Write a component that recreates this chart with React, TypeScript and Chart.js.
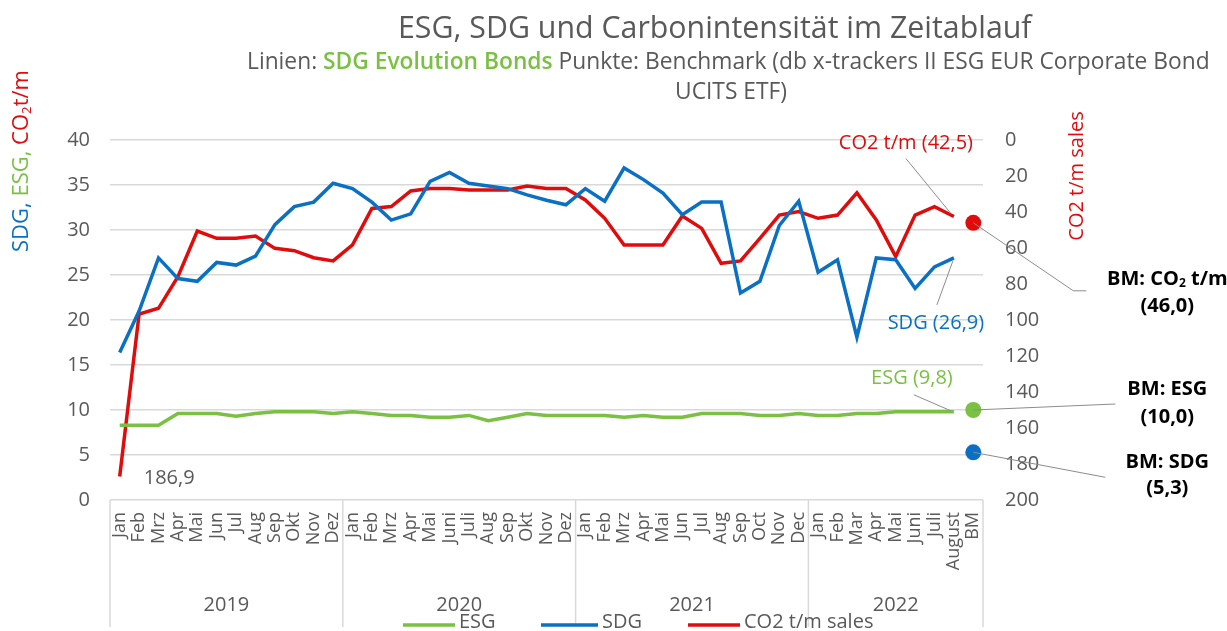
import React, { useEffect, useRef } from 'react';
import { Chart, registerables } from 'chart.js';

Chart.register(...registerables);

// ---------- data ----------
const monthLabels = [
  'Jan', 'Feb', 'Mrz', 'Apr', 'Mai', 'Jun', 'Jul', 'Aug', 'Sep', 'Okt', 'Nov', 'Dez',
  'Jan', 'Feb', 'Mrz', 'Apr', 'Mai', 'Juni', 'Juli', 'Aug', 'Sep', 'Okt', 'Nov', 'Dez',
  'Jan', 'Feb', 'Mrz', 'Apr', 'Mai', 'Jun', 'Jul', 'Aug', 'Sep', 'Oct', 'Nov', 'Dec',
  'Jan', 'Feb', 'Mar', 'Apr', 'Mai', 'Juni', 'Juli', 'August', 'BM',
];
const yearLabels = ['2019', '2020', '2021', '2022'];
const yearSizes = [12, 12, 12, 9];

const esgValues = [
  8.3, 8.3, 8.3, 9.6, 9.6, 9.6, 9.3, 9.6, 9.8, 9.8, 9.8, 9.6,
  9.8, 9.6, 9.4, 9.4, 9.2, 9.2, 9.4, 8.8, 9.2, 9.6, 9.4, 9.4,
  9.4, 9.4, 9.2, 9.4, 9.2, 9.2, 9.6, 9.6, 9.6, 9.4, 9.4, 9.6,
  9.4, 9.4, 9.6, 9.6, 9.8, 9.8, 9.8, 9.8, null,
];
const sdgValues = [
  16.4, 21.0, 26.9, 24.6, 24.3, 26.4, 26.1, 27.1, 30.6, 32.6, 33.1, 35.2,
  34.6, 33.1, 31.1, 31.8, 35.4, 36.4, 35.2, 34.9, 34.6, 33.9, 33.3, 32.8,
  34.6, 33.2, 36.9, 35.6, 34.1, 31.7, 33.1, 33.1, 23.0, 24.3, 30.5, 33.2,
  25.3, 26.7, 18.1, 26.9, 26.7, 23.5, 25.9, 26.9, null,
];
const co2Values = [
  186.9, 96.7, 93.5, 75.9, 50.6, 54.6, 54.6, 53.3, 60.2, 61.5, 65.4, 67.2,
  58.3, 38.0, 37.0, 28.3, 26.9, 26.9, 27.8, 27.8, 27.8, 25.6, 26.9, 26.9,
  33.3, 43.5, 58.3, 58.3, 58.3, 42.2, 49.1, 68.5, 67.2, 54.6, 41.7, 39.8,
  43.5, 41.7, 29.3, 44.4, 64.8, 41.7, 37.0, 42.5, null,
];
const bmEsg = 10.0;
const bmSdg = 5.3;
const bmCo2 = 46.0;

const leftTicks = { min: 0, max: 40, step: 5 };
const rightTicks = { min: 0, max: 200, step: 20 };

// ---------- styles ----------
const FONT = "'Open Sans', sans-serif";
const GRAY = '#595959';
const GREEN = '#7AC143';
const BLUE = '#0A70C4';
const RED = '#E00C0C';
const GRID = '#d9d9d9';
const LEADER = '#8c8c8c';

const fmt = (v: number) => v.toFixed(1).replace('.', ',');
const bmOnly = (v: number) => monthLabels.map((_, i) => (i === monthLabels.length - 1 ? v : null));

function drawSegments(ctx: CanvasRenderingContext2D, segs: any[], x: number, y: number, size: number) {
  let cx = x;
  for (const s of segs) {
    const fs = s.sub ? size * 0.6 : size;
    ctx.font = `${s.weight || 400} ${fs}px ${FONT}`;
    ctx.fillStyle = s.color;
    ctx.fillText(s.text, cx, y + (s.sub ? size * 0.25 : 0));
    cx += ctx.measureText(s.text).width;
  }
}
function segWidth(ctx: CanvasRenderingContext2D, segs: any[], size: number) {
  let w = 0;
  for (const s of segs) {
    const fs = s.sub ? size * 0.6 : size;
    ctx.font = `${s.weight || 400} ${fs}px ${FONT}`;
    w += ctx.measureText(s.text).width;
  }
  return w;
}
function fitSize(ctx: CanvasRenderingContext2D, segs: any[], target: number) {
  return (20 * target) / segWidth(ctx, segs, 20);
}

const overlay = {
  id: 'overlay',
  afterDraw(chart: any) {
    const { ctx, chartArea, scales } = chart;
    const xs = scales.x, ys = scales.y, ys2 = scales.y2;
    ctx.save();
    ctx.textBaseline = 'middle';

    // Title
    const titleSegs = [{ text: 'ESG, SDG und Carbonintensität im Zeitablauf', color: GRAY }];
    const tSize = fitSize(ctx, titleSegs, 634);
    drawSegments(ctx, titleSegs, 398, 29, tSize);

    // Subtitle
    const sub1 = [
      { text: 'Linien: ', color: GRAY },
      { text: 'SDG Evolution Bonds', color: GREEN, weight: 600 },
      { text: ' Punkte: Benchmark (db x-trackers II ESG EUR Corporate Bond', color: GRAY },
    ];
    const sSize = fitSize(ctx, sub1, 963);
    drawSegments(ctx, sub1, 247, 63, sSize);
    const sub2 = [{ text: 'UCITS ETF)', color: GRAY }];
    const w2 = segWidth(ctx, sub2, sSize);
    drawSegments(ctx, sub2, 731 - w2 / 2, 93, sSize);

    // Left axis title (rotated)
    const leftSegs = [
      { text: 'SDG, ', color: BLUE },
      { text: 'ESG, ', color: GREEN },
      { text: 'CO', color: RED },
      { text: '2', color: RED, sub: true },
      { text: 't/m', color: RED },
    ];
    const lSize = fitSize(ctx, leftSegs, 182);
    ctx.save();
    ctx.translate(22, 252);
    ctx.rotate(-Math.PI / 2);
    drawSegments(ctx, leftSegs, 0, 0, lSize);
    ctx.restore();

    // Right axis title
    ctx.save();
    ctx.translate(1077, 176);
    ctx.rotate(-Math.PI / 2);
    ctx.textAlign = 'center';
    ctx.font = `400 20px ${FONT}`;
    ctx.fillStyle = RED;
    ctx.fillText('CO2 t/m sales', 0, 0);
    ctx.restore();

    // Year group separators and labels
    const bottom = chartArea.bottom;
    const bounds: number[] = [chartArea.left];
    let acc = 0;
    for (let k = 0; k < yearSizes.length - 1; k++) {
      acc += yearSizes[k];
      bounds.push((xs.getPixelForValue(acc - 1) + xs.getPixelForValue(acc)) / 2);
    }
    bounds.push(chartArea.right);
    ctx.strokeStyle = GRID;
    ctx.lineWidth = 1.5;
    for (const b of bounds) {
      ctx.beginPath();
      ctx.moveTo(b, bottom);
      ctx.lineTo(b, bottom + 127);
      ctx.stroke();
    }
    ctx.font = `400 20px ${FONT}`;
    ctx.fillStyle = GRAY;
    ctx.textAlign = 'center';
    yearLabels.forEach((yl, k) => {
      ctx.fillText(yl, (bounds[k] + bounds[k + 1]) / 2, bottom + 105);
    });

    // Legend
    const legendItems = [
      { label: 'ESG', color: GREEN, x0: 403, x1: 455 },
      { label: 'SDG', color: BLUE, x0: 541, x1: 598 },
      { label: 'CO2 t/m sales', color: RED, x0: 688, x1: 740 },
    ];
    ctx.textAlign = 'left';
    for (const it of legendItems) {
      ctx.strokeStyle = it.color;
      ctx.lineWidth = 3.5;
      ctx.beginPath();
      ctx.moveTo(it.x0, 625);
      ctx.lineTo(it.x1, 625);
      ctx.stroke();
      ctx.fillStyle = GRAY;
      ctx.fillText(it.label, it.x1 + 4, 622);
    }

    // Data labels with leaders
    const last = monthLabels.length - 2;
    const bmIdx = monthLabels.length - 1;
    const line = (pts: number[][]) => {
      ctx.strokeStyle = LEADER;
      ctx.lineWidth = 1;
      ctx.beginPath();
      ctx.moveTo(pts[0][0], pts[0][1]);
      for (let i = 1; i < pts.length; i++) ctx.lineTo(pts[i][0], pts[i][1]);
      ctx.stroke();
    };

    // first CO2 value
    const f = [xs.getPixelForValue(0), ys2.getPixelForValue(co2Values[0])];
    ctx.font = `400 20px ${FONT}`;
    ctx.fillStyle = GRAY;
    ctx.textAlign = 'left';
    ctx.fillText(fmt(co2Values[0] as number), f[0] + 24, f[1] + 2);

    // last CO2
    const ac = [xs.getPixelForValue(last), ys2.getPixelForValue(co2Values[last])];
    line([[ac[0] - 48, ac[1] - 58], [ac[0] - 3, ac[1] - 3]]);
    ctx.textAlign = 'center';
    ctx.fillStyle = RED;
    ctx.fillText(`CO2 t/m (${fmt(co2Values[last] as number)})`, ac[0] - 48, ac[1] - 73);

    // last SDG
    const as = [xs.getPixelForValue(last), ys.getPixelForValue(sdgValues[last])];
    line([[as[0] - 17, as[1] + 47], [as[0] - 1, as[1] + 3]]);
    ctx.fillStyle = BLUE;
    ctx.fillText(`SDG (${fmt(sdgValues[last] as number)})`, as[0] - 18, as[1] + 65);

    // last ESG
    const ae = [xs.getPixelForValue(last), ys.getPixelForValue(esgValues[last])];
    line([[ae[0] - 40, ae[1] - 17], [ae[0] - 3, ae[1] - 1]]);
    ctx.fillStyle = GREEN;
    ctx.fillText(`ESG (${fmt(esgValues[last] as number)})`, ae[0] - 42, ae[1] - 34);

    // Benchmark labels
    const bx = xs.getPixelForValue(bmIdx);
    const tx = bx + 194;
    const bc = ys2.getPixelForValue(bmCo2);
    line([[bx, bc], [bx + 100, bc + 68], [bx + 113, bc + 68]]);
    const bmCoSegs = [
      { text: 'BM: CO', color: '#000', weight: 700 },
      { text: '2', color: '#000', weight: 700, sub: true },
      { text: ' t/m', color: '#000', weight: 700 },
    ];
    const wco = segWidth(ctx, bmCoSegs, 20);
    ctx.textAlign = 'left';
    drawSegments(ctx, bmCoSegs, tx - wco / 2, bc + 56, 20);
    ctx.textAlign = 'center';
    ctx.font = `700 20px ${FONT}`;
    ctx.fillStyle = '#000';
    ctx.fillText(`(${fmt(bmCo2)})`, tx, bc + 83);

    const be = ys.getPixelForValue(bmEsg);
    line([[bx, be], [bx + 142, be - 6]]);
    ctx.font = `700 20px ${FONT}`;
    ctx.fillStyle = '#000';
    ctx.fillText('BM: ESG', tx, be - 21);
    ctx.fillText(`(${fmt(bmEsg)})`, tx, be + 7);

    const bs = ys.getPixelForValue(bmSdg);
    line([[bx, bs], [bx + 132, bs + 25]]);
    ctx.fillText('BM: SDG', tx, bs + 10);
    ctx.fillText(`(${fmt(bmSdg)})`, tx, bs + 36);

    ctx.restore();
  },
};

export default function App() {
  const ref = useRef<HTMLCanvasElement | null>(null);
  useEffect(() => {
    document.body.style.margin = '0';
    document.body.style.overflow = 'hidden';
    if (!ref.current) return;
    const lineDs = (label: string, data: any[], color: string, axis: string) => ({
      label,
      data,
      borderColor: color,
      backgroundColor: color,
      borderWidth: 3.5,
      pointRadius: 0,
      tension: 0,
      yAxisID: axis,
      spanGaps: false,
    });
    const dotDs = (label: string, data: any[], color: string, axis: string) => ({
      label,
      data,
      borderColor: color,
      backgroundColor: color,
      showLine: false,
      pointRadius: 8,
      pointBorderWidth: 0,
      yAxisID: axis,
    });
    const chart = new Chart(ref.current, {
      type: 'line',
      data: {
        labels: monthLabels,
        datasets: [
          lineDs('ESG', esgValues, GREEN, 'y'),
          lineDs('SDG', sdgValues, BLUE, 'y'),
          lineDs('CO2 t/m sales', co2Values, RED, 'y2'),
          dotDs('BM ESG', bmOnly(bmEsg), GREEN, 'y'),
          dotDs('BM SDG', bmOnly(bmSdg), BLUE, 'y'),
          dotDs('BM CO2', bmOnly(bmCo2), RED, 'y2'),
        ] as any,
      },
      options: {
        animation: false,
        responsive: false,
        events: [],
        layout: { padding: { top: 140, left: 0, right: 0, bottom: 0 } },
        plugins: { legend: { display: false }, title: { display: false }, tooltip: { enabled: false } },
        scales: {
          x: {
            type: 'category',
            offset: true,
            grid: { display: false, drawTicks: false },
            border: { display: false },
            ticks: {
              autoSkip: false,
              minRotation: 90,
              maxRotation: 90,
              padding: 12,
              color: GRAY,
              font: { family: FONT, size: 18 },
            },
            afterFit: (s: any) => { s.height = 131; },
          },
          y: {
            position: 'left',
            min: leftTicks.min,
            max: leftTicks.max,
            grid: { color: GRID, lineWidth: 1.5, drawTicks: false },
            border: { display: false },
            ticks: { stepSize: leftTicks.step, padding: 20, color: GRAY, font: { family: FONT, size: 20 } },
            afterFit: (s: any) => { s.width = 110; },
          },
          y2: {
            position: 'right',
            reverse: true,
            min: rightTicks.min,
            max: rightTicks.max,
            grid: { drawOnChartArea: false, drawTicks: false },
            border: { display: false },
            ticks: { stepSize: rightTicks.step, padding: 22, color: GRAY, font: { family: FONT, size: 20 } },
            afterFit: (s: any) => { s.width = 244; },
          },
        },
      } as any,
      plugins: [overlay],
    });
    let alive = true;
    (document as any).fonts?.ready?.then(() => { if (alive) chart.update(); });
    return () => { alive = false; chart.destroy(); };
  }, []);
  return <canvas ref={ref} width={1227} height={631} style={{ display: 'block' }} />;
}
